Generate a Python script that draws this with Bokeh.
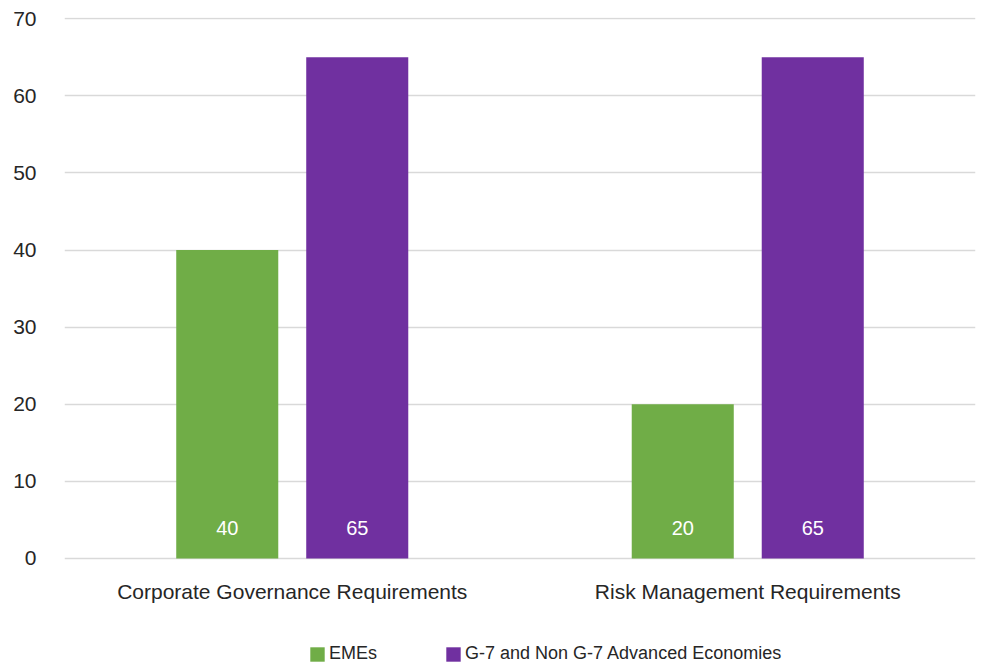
from bokeh.plotting import figure
from bokeh.models import ColumnDataSource, Legend, LegendItem, FixedTicker, Range1d, LabelSet
from bokeh.core.properties import value
from bokeh.embed import file_html
from bokeh.resources import INLINE

categories = ["Corporate Governance Requirements", "Risk Management Requirements"]
series_names = ["EMEs", "G-7 and Non G-7 Advanced Economies"]
emes = [40, 20]
g7 = [65, 65]
y_ticks = [0, 10, 20, 30, 40, 50, 60, 70]

GREEN = "#70AD47"
PURPLE = "#7030A0"
FONT = "Liberation Sans"
TEXT = "#262626"

centers = [i + 0.5 for i in range(len(categories))]
offset = 0.1427
bw = 0.224

src_e = ColumnDataSource(dict(x=[c - offset for c in centers], top=emes, lab=[str(v) for v in emes], y0=[0]*len(emes)))
src_g = ColumnDataSource(dict(x=[c + offset for c in centers], top=g7, lab=[str(v) for v in g7], y0=[0]*len(g7)))
src_c = ColumnDataSource(dict(x=centers, y0=[0]*len(categories), lab=categories))

p = figure(output_backend="svg", toolbar_location=None, x_axis_location=None,
           x_range=Range1d(0, len(categories)), y_range=Range1d(-13.745, 70.15),
           min_border_left=64, min_border_right=7, min_border_top=17, min_border_bottom=0)
p.frame_width = 911
p.frame_height = 647
p.outline_line_color = None
p.background_fill_color = "white"
p.border_fill_color = "white"

r1 = p.vbar(x="x", top="top", width=bw, source=src_e, fill_color=GREEN, line_color=None)
r2 = p.vbar(x="x", top="top", width=bw, source=src_g, fill_color=PURPLE, line_color=None)

for s in (src_e, src_g):
    p.add_layout(LabelSet(x="x", y="y0", text="lab", source=s, y_offset=30,
                          text_align="center", text_baseline="middle",
                          text_color="white", text_font=value(FONT), text_font_size="20px"))

# category labels under the bars
p.add_layout(LabelSet(x="x", y="y0", text="lab", source=src_c, y_offset=-33,
                      text_align="center", text_baseline="middle",
                      text_color=TEXT, text_font=value(FONT), text_font_size="21px"))

p.xgrid.grid_line_color = None
p.ygrid.grid_line_color = "#d9d9d9"
p.ygrid.grid_line_width = 1.5
p.yaxis.ticker = FixedTicker(ticks=y_ticks)
p.yaxis.axis_line_color = None
p.yaxis.major_tick_line_color = None
p.yaxis.minor_tick_line_color = None
p.yaxis.major_label_standoff = 22
p.yaxis.major_label_text_font = FONT
p.yaxis.major_label_text_font_size = "21px"
p.yaxis.major_label_text_color = TEXT

legend = Legend(items=[LegendItem(label=series_names[0], renderers=[r1]),
                       LegendItem(label=series_names[1], renderers=[r2])],
                orientation="horizontal", location=(244, 0),
                glyph_width=18, glyph_height=18, label_standoff=3, spacing=67,
                label_text_font=FONT, label_text_font_size="18px", label_text_color=TEXT,
                border_line_color=None, background_fill_alpha=0, padding=4, margin=0)
p.add_layout(legend, "center")

open("out.html", "w").write(file_html(p, INLINE))
